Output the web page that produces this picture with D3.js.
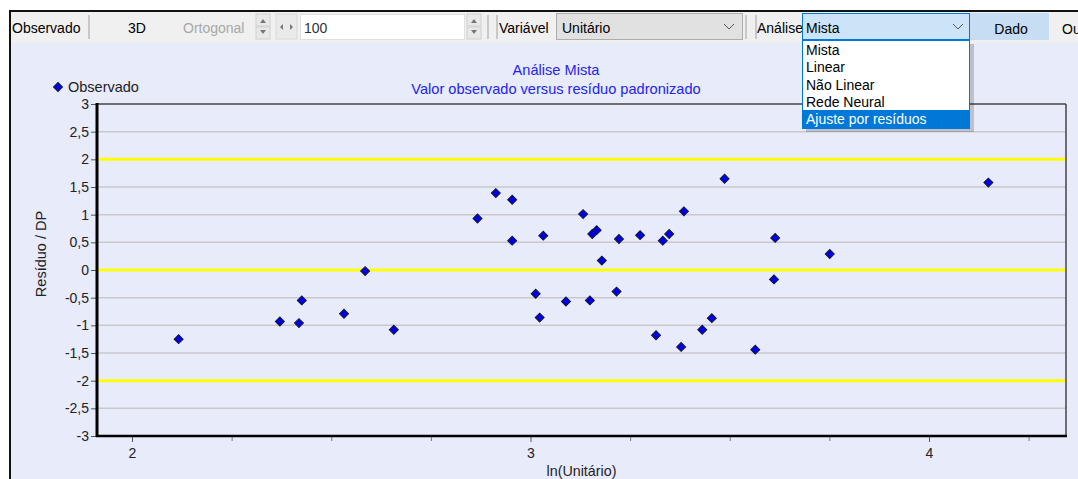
<!DOCTYPE html>
<html><head><meta charset="utf-8">
<script src="https://cdn.jsdelivr.net/npm/d3@7"></script>
<style>
html,body{margin:0;padding:0;background:#fff;}
svg{display:block;font-family:"Liberation Sans",Arial,sans-serif;}
</style></head>
<body>
<svg id="c" width="1078" height="479"></svg>
<script>
// ---- data ----
const seriesName = "Observado";
const xValues = [2.117,2.371,2.419,2.426,2.532,2.585,2.657,2.867,2.913,2.954,2.954,3.032,3.013,3.023,3.089,3.132,3.149,3.155,3.166,3.179,3.216,3.222,3.275,3.315,3.332,3.348,3.378,3.385,3.431,3.455,3.487,3.564,3.611,3.614,3.751,4.149];
const yValues = [-1.25,-0.93,-0.96,-0.55,-0.79,-0.02,-1.08,0.93,1.39,1.27,0.53,0.62,-0.43,-0.86,-0.57,1.01,-0.55,0.65,0.72,0.17,-0.39,0.56,0.63,-1.18,0.53,0.65,-1.39,1.06,-1.08,-0.87,1.65,-1.44,-0.17,0.58,0.29,1.58];
const yTicks = [-3,-2.5,-2,-1.5,-1,-0.5,0,0.5,1,1.5,2,2.5,3];
const yRefLines = [-2,0,2];
const xMajorTicks = [2,3,4];
const xMinorTicks = [2.25,2.5,2.75,3.25,3.5,3.75,4.25];
const titleLines = ["Análise Mista","Valor observado versus resíduo padronizado"];
const xLabel = "ln(Unitário)";
const yLabel = "Resíduo / DP";
const menuItems = ["Mista","Linear","Não Linear","Rede Neural","Ajuste por resíduos"];

const svg = d3.select("#c");
const fmt = d => String(d).replace(".", ",");

// panel background
svg.append("rect").attr("x",10).attr("y",11).attr("width",1068).attr("height",468).attr("fill","#E8EBFA");
// toolbar
svg.append("rect").attr("x",10).attr("y",11).attr("width",1068).attr("height",32).attr("fill","#F0F0F0");
svg.append("line").attr("x1",9).attr("x2",1078).attr("y1",11).attr("y2",11).attr("stroke","#111").attr("stroke-width",2);
svg.append("line").attr("x1",10).attr("x2",10).attr("y1",10).attr("y2",479).attr("stroke","#111").attr("stroke-width",2);

const tb = svg.append("g").style("font-size","14px");
function txt(x,y,s,fill,anchor){ return tb.append("text").attr("x",x).attr("y",y).attr("fill",fill||"#000").attr("text-anchor",anchor||"start").text(s); }
function vsep(x){ tb.append("line").attr("x1",x).attr("x2",x).attr("y1",15).attr("y2",39).attr("stroke","#A0A0A0"); }
function spin(x){
  tb.append("rect").attr("x",x).attr("y",14).attr("width",14).attr("height",12).attr("fill","#E8E8E8").attr("stroke","#D0D0D0");
  tb.append("rect").attr("x",x).attr("y",27).attr("width",14).attr("height",12).attr("fill","#E8E8E8").attr("stroke","#D0D0D0");
  tb.append("path").attr("d",`M${x+4},23 L${x+7},19 L${x+10},23Z`).attr("fill","#777");
  tb.append("path").attr("d",`M${x+4},30 L${x+7},34 L${x+10},30Z`).attr("fill","#777");
}
txt(12,33,"Observado");
vsep(89);
txt(137,33,"3D","#000","middle");
txt(183,33,"Ortogonal","#A8A8A8");
spin(256);
tb.append("rect").attr("x",276).attr("y",14).attr("width",21).attr("height",25).attr("fill","#EAEAEA").attr("stroke","#D8D8D8");
tb.append("path").attr("d","M283,24 L280,27 L283,30Z").attr("fill","#777");
tb.append("path").attr("d","M290,24 L293,27 L290,30Z").attr("fill","#777");
tb.append("rect").attr("x",300.5).attr("y",14.5).attr("width",164).attr("height",25).attr("fill","#fff").attr("stroke","#E0E0E0");
txt(304,33,"100","#333");
spin(467);
vsep(488); vsep(497);
txt(499,33,"Variável");
tb.append("rect").attr("x",556.5).attr("y",13.5).attr("width",186).attr("height",26).attr("fill","#E1E1E1").attr("stroke","#ADADAD");
txt(562,33,"Unitário");
tb.append("path").attr("d","M724,24 L729,29 L734,24").attr("fill","none").attr("stroke","#555");
vsep(746); vsep(756);
txt(757,33,"Análise");
tb.append("rect").attr("x",802.5).attr("y",13.5).attr("width",167).attr("height",26).attr("fill","#CCE4F7").attr("stroke","#0078D7");
txt(806,33,"Mista");
tb.append("path").attr("d","M953,24 L958,29 L963,24").attr("fill","none").attr("stroke","#555");
tb.append("rect").attr("x",970).attr("y",13).attr("width",79).attr("height",27).attr("fill","#C6DDF3");
txt(1011,34,"Dado","#000","middle");
txt(1062,34,"Ou");

// ---- chart ----
const L=97, R=1066, T=104, B=436;
const x = d3.scaleLinear().domain([2-35/398.5, 4+137/398.5]).range([L,R]);
const y = d3.scaleLinear().domain([-3,3]).range([B,T]);

svg.append("rect").attr("x",L).attr("y",T).attr("width",R-L).attr("height",B-T).attr("fill","#E8EBFA");
// grid
svg.append("g").selectAll("line").data(yTicks.filter(v=>!yRefLines.includes(v) && v!==3 && v!==-3)).join("line")
  .attr("x1",L).attr("x2",R).attr("y1",d=>y(d)).attr("y2",d=>y(d)).attr("stroke","#C9C9CC").attr("stroke-width",1.5);
svg.append("g").selectAll("line").data(yRefLines).join("line")
  .attr("x1",L).attr("x2",R).attr("y1",d=>y(d)).attr("y2",d=>y(d)).attr("stroke","#FFFF00").attr("stroke-width",3);
// frame
svg.append("line").attr("x1",L).attr("x2",R).attr("y1",T).attr("y2",T).attr("stroke","#444").attr("stroke-width",1.5);
svg.append("line").attr("x1",R).attr("x2",R).attr("y1",T).attr("y2",B).attr("stroke","#444").attr("stroke-width",1.5);

// y axis
const ya = svg.append("g").attr("transform",`translate(${L},0)`)
  .call(d3.axisLeft(y).tickValues(yTicks).tickFormat(fmt).tickSize(6).tickPadding(2));
ya.select(".domain").remove();
ya.selectAll("line").attr("stroke","#555");
ya.selectAll("text").style("font-size","14px").attr("fill","#222").attr("font-family","Liberation Sans, Arial, sans-serif");
svg.append("line").attr("x1",L).attr("x2",L).attr("y1",T-1).attr("y2",B+1).attr("stroke","#000").attr("stroke-width",3);

// x axis
const xa = svg.append("g").attr("transform",`translate(0,${B})`)
  .call(d3.axisBottom(x).tickValues(xMajorTicks).tickFormat(d=>String(d)).tickSize(6).tickPadding(6));
xa.select(".domain").remove();
xa.selectAll("line").attr("stroke","#555");
xa.selectAll("text").style("font-size","14px").attr("fill","#222").attr("font-family","Liberation Sans, Arial, sans-serif");
const xm = svg.append("g").attr("transform",`translate(0,${B})`)
  .call(d3.axisBottom(x).tickValues(xMinorTicks).tickFormat("").tickSize(5));
xm.select(".domain").remove();
xm.selectAll("line").attr("stroke","#777");
svg.append("line").attr("x1",L-1).attr("x2",R+1).attr("y1",B).attr("y2",B).attr("stroke","#000").attr("stroke-width",2.5);

// labels
svg.append("text").attr("x",(L+R)/2).attr("y",476).attr("text-anchor","middle").style("font-size","14.3px").attr("fill","#222").text(xLabel);
svg.append("text").attr("transform",`translate(46,254) rotate(-90)`).attr("text-anchor","middle").style("font-size","14.5px").attr("fill","#222").text(yLabel);
svg.selectAll(".ttl").data(titleLines).join("text").attr("class","ttl")
  .attr("x",556).attr("y",(d,i)=>75+i*19).attr("text-anchor","middle").style("font-size","14.6px").attr("fill","#2424F0").text(d=>d);

// legend
const sq = d3.symbol().type(d3.symbolSquare).size(40);
svg.append("path").attr("d",sq()).attr("transform","translate(58,87) rotate(45)").attr("fill","#0000E6").attr("stroke","#15153a").attr("stroke-width",1);
svg.append("text").attr("x",68).attr("y",92).style("font-size","14.5px").attr("fill","#222").text(seriesName);

// points
const pts = xValues.map((v,i)=>({x:v,y:yValues[i]}));
svg.append("g").selectAll("path").data(pts).join("path")
  .attr("d",sq())
  .attr("transform",d=>`translate(${x(d.x)},${y(d.y)}) rotate(45)`)
  .attr("fill","#0000E6").attr("stroke","#15153a").attr("stroke-width",1);

// dropdown list
const dd = svg.append("g").style("font-size","14px");
dd.append("rect").attr("x",806).attr("y",44).attr("width",168).attr("height",88).attr("fill","rgba(0,0,0,0.18)");
dd.append("rect").attr("x",802.5).attr("y",40.5).attr("width",167).attr("height",88).attr("fill","#fff").attr("stroke","#0078D7");
dd.append("rect").attr("x",803).attr("y",110).attr("width",166).attr("height",18).attr("fill","#0078D7");
dd.selectAll("text").data(menuItems).join("text")
  .attr("x",806).attr("y",(d,i)=>i<4?55+i*17.3:124)
  .attr("fill",(d,i)=>i===4?"#fff":"#000").text(d=>d);
</script>
</body></html>
